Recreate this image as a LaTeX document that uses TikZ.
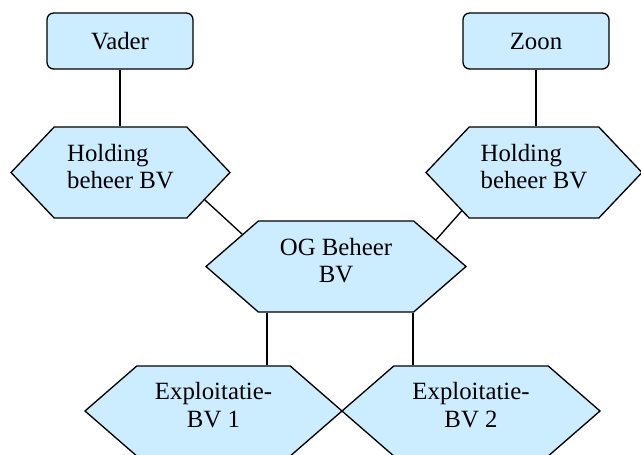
\documentclass[tikz,border=0pt]{standalone}
\usepackage{fontspec}
\setmainfont{Liberation Serif}
\newfontfamily\bvfont{Liberation Serif}
\usetikzlibrary{shapes.symbols}
\definecolor{lichtblauw}{RGB}{204,236,255}
\begin{document}
\begin{tikzpicture}[x=0.75pt,y=-0.75pt,
		every node/.style={font=\bvfont\fontsize{18.6pt}{20.8pt}\selectfont},
		persoon/.style={draw, line width=1pt, fill=lichtblauw, rounded corners=5pt, minimum width=109.5pt, minimum height=42pt, inner sep=0pt},
		bv/.style={draw, line width=1pt, fill=lichtblauw, shape=signal, signal to=east and west, signal pointer angle=82, minimum height=68.25pt, inner sep=0pt, align=center, text depth=9pt},
		lijn/.style={line width=1pt}]
	\useasboundingbox (0,0) rectangle (641,454);
	
	% Personen
	\node[persoon] (vader) at (120,41) {Vader};
	\node[persoon] (zoon) at (536,41) {Zoon};
	
	% Holdings
	\node[bv, signal pointer angle=93, minimum width=164.25pt, align=left] (holdingV) at (120.5,172.5) {Holding\\beheer BV};
	\node[bv, signal pointer angle=93, minimum width=162pt, align=left] (holdingZ) at (534,172.5) {Holding\\beheer BV};
	
	% OG Beheer
	\node[bv, minimum width=195pt] (og) at (336,266.5) {OG Beheer\\BV};
	
	% Exploitatie
	\node[bv, minimum width=192.75pt, minimum height=67.5pt] (expl1) at (213.5,411) {Exploitatie-\\BV 1};
	\node[bv, minimum width=193.5pt, minimum height=67.5pt] (expl2) at (471,411) {Exploitatie-\\BV 2};
	
	% Verbindingen
	\draw[lijn] (vader.south) -- (vader.south |- holdingV.north);
	\draw[lijn] (zoon.south) -- (zoon.south |- holdingZ.north);
	\draw[lijn] (holdingV.-18) -- (og.161);
	\draw[lijn] (holdingZ.-152) -- (og.15.5);
	\draw[lijn] ([xshift=-51.75pt]og.south) -- ([xshift=-51.75pt]og.south |- expl1.north);
	\draw[lijn] ([xshift=57.75pt]og.south) -- ([xshift=57.75pt]og.south |- expl2.north);
\end{tikzpicture}
\end{document}
